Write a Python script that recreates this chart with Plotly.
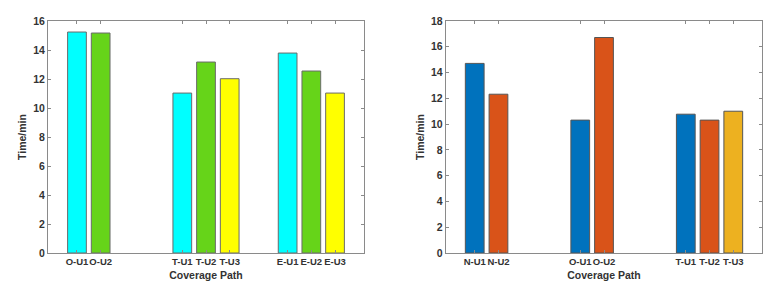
import plotly.graph_objects as go

# ---- data ----
groups = [1, 2, 3]
left_labels = [["O-U1", "O-U2"], ["T-U1", "T-U2", "T-U3"], ["E-U1", "E-U2", "E-U3"]]
left_s1 = [15.24, 11.03, 13.79]
left_s2 = [15.17, 13.17, 12.55]
left_s3 = [None, 12.02, 11.03]

right_labels = [["N-U1", "N-U2"], ["O-U1", "O-U2"], ["T-U1", "T-U2", "T-U3"]]
right_s1 = [14.71, 10.31, 10.77]
right_s2 = [12.32, 16.72, 10.31]
right_s3 = [None, None, 11.00]

left_colors = ["#00FFFF", "#66D419", "#FFFF00"]
right_colors = ["#0072BD", "#D95319", "#EDB120"]

BARGAP = 0.325
SLOT = (1 - BARGAP) / 3

FONT = "Liberation Sans, Arial, sans-serif"
TXT = "#333333"
LINE = "#8a8a8a"


def tick_positions(labels):
    vals, texts = [], []
    for g, labs in zip(groups, labels):
        for k, lab in enumerate(labs):
            vals.append(g + (k - 1) * SLOT)
            texts.append(lab)
    return vals, texts


fig = go.Figure()
for series, col in zip([left_s1, left_s2, left_s3], left_colors):
    fig.add_trace(go.Bar(x=groups, y=series, marker=dict(color=col, line=dict(color="#6a6a6a", width=1)),
                         xaxis="x", yaxis="y", showlegend=False))
for series, col in zip([right_s1, right_s2, right_s3], right_colors):
    fig.add_trace(go.Bar(x=groups, y=series, marker=dict(color=col, line=dict(color="#555555", width=1)),
                         xaxis="x2", yaxis="y2", showlegend=False))

lv, lt = tick_positions(left_labels)
rv, rt = tick_positions(right_labels)

common_x = dict(showline=True, linecolor=LINE, linewidth=1, mirror="ticks", ticks="inside",
                ticklen=3, tickcolor=LINE, range=[0.5, 3.5], showgrid=False, zeroline=False,
                automargin=False,
                tickfont=dict(family=FONT, size=9.5, color=TXT), tickangle=0,
                title=dict(text="<b>Coverage Path</b>", font=dict(family=FONT, size=10.5, color=TXT), standoff=5))
common_y = dict(showline=True, linecolor=LINE, linewidth=1, mirror="ticks", ticks="inside",
                ticklen=3, tickcolor=LINE, showgrid=False, zeroline=False, dtick=2,
                automargin=False,
                tickfont=dict(family=FONT, size=10.5, color=TXT),
                title=dict(text="<b>Time/min</b>", font=dict(family=FONT, size=10.5, color=TXT), standoff=4))

fig.update_layout(
    width=780, height=289,
    margin=dict(l=0, r=0, t=21, b=35.5),
    paper_bgcolor="white", plot_bgcolor="white",
    barmode="group", bargap=BARGAP, bargroupgap=0.21,
    xaxis=dict(common_x, domain=[48 / 780, 364 / 780], anchor="y", tickvals=lv,
               ticktext=["<b>%s</b>" % t for t in lt]),
    yaxis=dict(common_y, domain=[0, 1], anchor="x", range=[0, 16]),
    xaxis2=dict(common_x, domain=[445.7 / 780, 762.3 / 780], anchor="y2", tickvals=rv,
                ticktext=["<b>%s</b>" % t for t in rt]),
    yaxis2=dict(common_y, domain=[0, 1], anchor="x2", range=[0, 18]),
)
fig.update_yaxes(tickprefix="<b>", ticksuffix="</b>")

fig.write_html("out.html", config={"displayModeBar": False},
               post_script="document.body.style.margin='0px';")
